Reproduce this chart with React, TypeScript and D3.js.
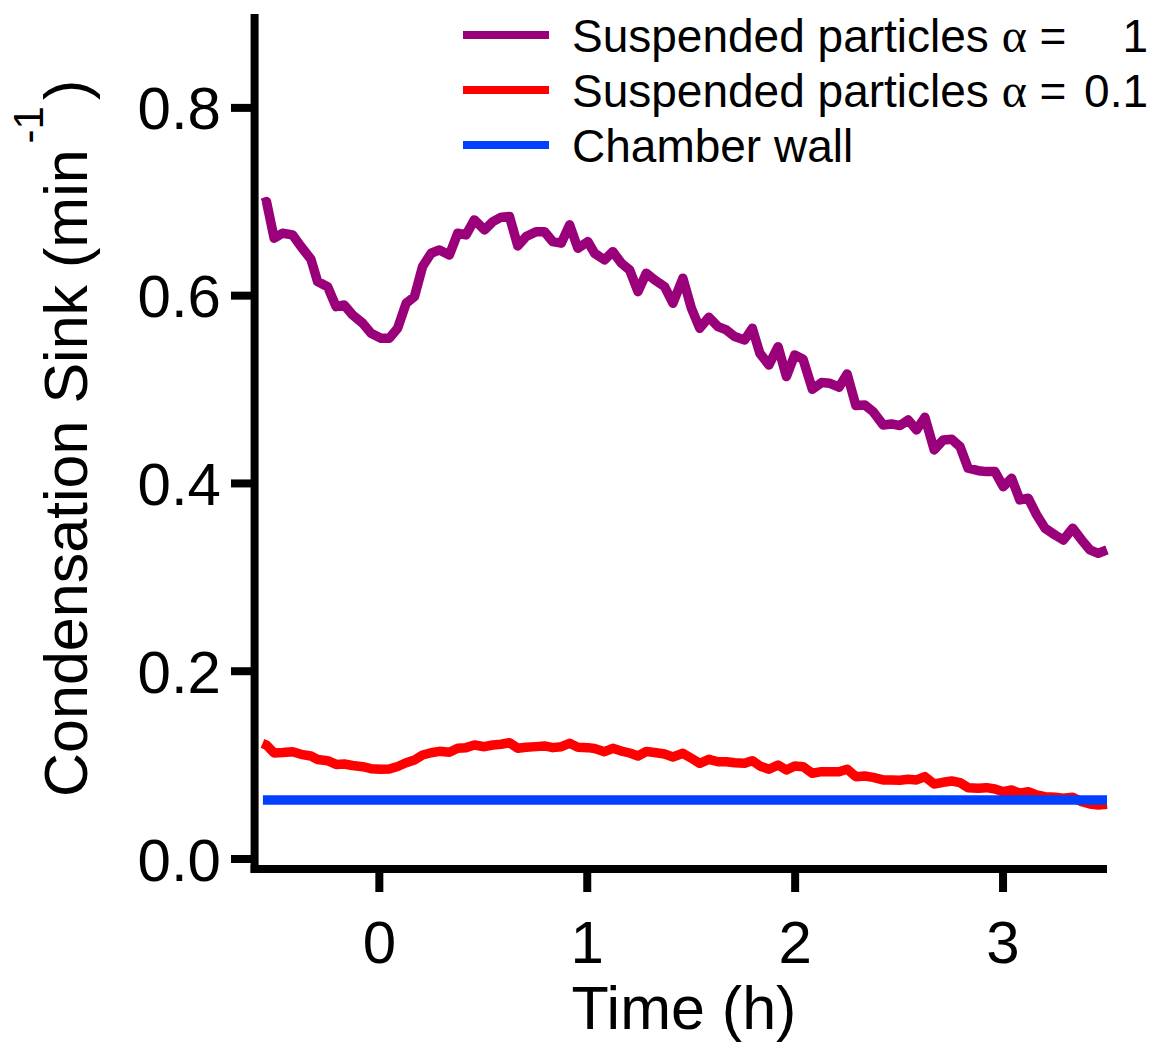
import React from "react";
import * as d3 from "d3";

const timeH = [
  -0.562, -0.543, -0.506, -0.466, -0.417, -0.377, -0.329, -0.297, -0.249, -0.208,
  -0.169, -0.129, -0.08, -0.04, 0.008, 0.048, 0.088, 0.129, 0.169, 0.208,
  0.249, 0.289, 0.337, 0.377, 0.417, 0.457, 0.506, 0.546, 0.586, 0.626,
  0.666, 0.706, 0.754, 0.794, 0.834, 0.875, 0.915, 0.955, 1.003, 1.035,
  1.083, 1.123, 1.164, 1.204, 1.244, 1.284, 1.324, 1.372, 1.412, 1.46,
  1.501, 1.541, 1.585, 1.629, 1.669, 1.709, 1.757, 1.794, 1.83, 1.874,
  1.918, 1.958, 1.998, 2.038, 2.083, 2.127, 2.167, 2.211, 2.25, 2.292,
  2.335, 2.375, 2.423, 2.464, 2.504, 2.544, 2.584, 2.624, 2.669, 2.712,
  2.753, 2.793, 2.832, 2.881, 2.921, 2.961, 3.001, 3.041, 3.081, 3.121,
  3.162, 3.202, 3.25, 3.29, 3.335, 3.378, 3.418, 3.458, 3.5,
];

const sinkAlpha1 = [
  0.6985, 0.7002, 0.6612, 0.6665, 0.6647, 0.6523, 0.6388, 0.615, 0.6096, 0.5883,
  0.5901, 0.5795, 0.5706, 0.56, 0.5547, 0.5547, 0.5653, 0.592, 0.599, 0.631,
  0.6452, 0.6487, 0.6434, 0.6665, 0.6647, 0.6807, 0.67, 0.6789, 0.6836, 0.6842,
  0.653, 0.6629, 0.6682, 0.6682, 0.6576, 0.6559, 0.6754, 0.6505, 0.6576, 0.6452,
  0.6381, 0.6469, 0.6346, 0.6274, 0.6043, 0.6239, 0.6168, 0.6096, 0.592, 0.6186,
  0.5866, 0.5653, 0.577, 0.567, 0.5635, 0.5564, 0.5529, 0.5653, 0.5387, 0.5262,
  0.5457, 0.5138, 0.5369, 0.5323, 0.5003, 0.5074, 0.5067, 0.5025, 0.5166, 0.4829,
  0.4836, 0.4765, 0.4623, 0.4634, 0.4616, 0.4676, 0.457, 0.4705, 0.4357, 0.4463,
  0.4471, 0.4392, 0.4162, 0.4136, 0.4126, 0.4126, 0.3966, 0.4055, 0.3824, 0.3842,
  0.3664, 0.3523, 0.3451, 0.3398, 0.3523, 0.3398, 0.3292, 0.3256, 0.3292,
];

const sinkAlpha01 = [
  0.1232, 0.1214, 0.1129, 0.1134, 0.1143, 0.1115, 0.1097, 0.106, 0.1047, 0.1007,
  0.1012, 0.0996, 0.0983, 0.0962, 0.0956, 0.0959, 0.0985, 0.1025, 0.1055, 0.1108,
  0.1132, 0.1147, 0.1137, 0.1179, 0.1186, 0.1214, 0.1196, 0.1214, 0.1222, 0.1239,
  0.1179, 0.119, 0.1197, 0.1204, 0.1186, 0.1196, 0.1232, 0.119, 0.1186, 0.1177,
  0.1143, 0.1179, 0.115, 0.1129, 0.1097, 0.1145, 0.1134, 0.1119, 0.1087, 0.1126,
  0.1073, 0.1019, 0.1062, 0.1036, 0.1036, 0.1026, 0.1019, 0.1047, 0.0991, 0.0956,
  0.1001, 0.0948, 0.0991, 0.0983, 0.0913, 0.093, 0.093, 0.093, 0.0956, 0.0877,
  0.0884, 0.087, 0.0842, 0.0842, 0.0838, 0.0849, 0.0842, 0.0877, 0.0799, 0.0817,
  0.0831, 0.0813, 0.076, 0.0753, 0.076, 0.0746, 0.0717, 0.0735, 0.07, 0.0717,
  0.0682, 0.0664, 0.0657, 0.0647, 0.0657, 0.061, 0.0586, 0.0575, 0.0583,
];

const wallTime = [-0.56, 3.5];
const wallSink = [0.0628, 0.0628];

const xTicks = [0, 1, 2, 3];
const yTicks = [0, 0.2, 0.4, 0.6, 0.8];

const seriesLabels = ["Suspended particles ", "Suspended particles ", "Chamber wall"];
const seriesHasAlpha = [true, true, false];
const seriesValues = ["1", "0.1", ""];
const seriesColors = ["#99007A", "#FF0000", "#0041FF"];

const FONT = "'Liberation Sans', Arial, Helvetica, sans-serif";

export default function App() {
  const W = 1157;
  const H = 1043;
  const x = d3.scaleLinear().domain([-0.6, 3.5]).range([254.6, 1107]);
  const y = d3.scaleLinear().domain([0, 0.9]).range([859, 14]);

  const line = d3
    .line<[number, number]>()
    .x((d) => x(d[0]))
    .y((d) => y(d[1]));

  const purple = timeH.map((t, i) => [t, sinkAlpha1[i]] as [number, number]);
  const red = timeH.map((t, i) => [t, sinkAlpha01[i]] as [number, number]);
  const blue = wallTime.map((t, i) => [t, wallSink[i]] as [number, number]);

  const axisX = x(-0.6);
  const axisY = 869;

  return (
    <svg
      width={W}
      height={H}
      style={{ position: "absolute", left: 0, top: 0, background: "#fff" }}
      fontFamily={FONT}
    >
      <rect x={0} y={0} width={W} height={H} fill="#fff" />
      {/* data lines */}
      <path d={line(purple) || ""} fill="none" stroke={seriesColors[0]} strokeWidth={9.5} strokeLinejoin="round" />
      <path d={line(red) || ""} fill="none" stroke={seriesColors[1]} strokeWidth={9.5} strokeLinejoin="round" />
      <path d={line(blue) || ""} fill="none" stroke={seriesColors[2]} strokeWidth={9.5} />

      {/* y axis */}
      <line x1={axisX} x2={axisX} y1={14} y2={axisY + 4} stroke="#000" strokeWidth={8} />
      {yTicks.map((t) => (
        <g key={"y" + t}>
          <line x1={231} x2={axisX} y1={y(t)} y2={y(t)} stroke="#000" strokeWidth={8} />
          <text x={221} y={y(t)} dy="0.36em" textAnchor="end" fontSize={60}>
            {t.toFixed(1)}
          </text>
        </g>
      ))}

      {/* x axis */}
      <line x1={axisX - 4} x2={x(3.5)} y1={axisY} y2={axisY} stroke="#000" strokeWidth={8} />
      {xTicks.map((t) => (
        <g key={"x" + t}>
          <line x1={x(t)} x2={x(t)} y1={axisY} y2={892} stroke="#000" strokeWidth={8} />
          <text x={x(t)} y={963} textAnchor="middle" fontSize={60}>
            {t}
          </text>
        </g>
      ))}

      {/* axis titles */}
      <text x={684} y={1029} textAnchor="middle" fontSize={61}>
        Time (h)
      </text>
      <text transform="translate(87,797) rotate(-90)" fontSize={61}>
        Condensation Sink (min
        <tspan fontSize={42} dx={6} dy={-44}>-1</tspan>
        <tspan fontSize={61} dx={6} dy={44}>)</tspan>
      </text>

      {/* legend */}
      {seriesLabels.map((label, i) => {
        const ly = 35 + i * 55;
        return (
          <g key={"leg" + i}>
            <line x1={463} x2={549} y1={ly} y2={ly} stroke={seriesColors[i]} strokeWidth={8} />
            <text x={572} y={ly} dy="0.36em" fontSize={46}>
              {label}
              {seriesHasAlpha[i] && (
                <tspan fontFamily="'Liberation Serif', 'Times New Roman', serif" fontSize={48}>
                  {"\u03b1"}
                </tspan>
              )}
              {seriesHasAlpha[i] ? " =" : ""}
            </text>
            {seriesValues[i] && (
              <text x={1148} y={ly} dy="0.36em" textAnchor="end" fontSize={46}>
                {seriesValues[i]}
              </text>
            )}
          </g>
        );
      })}
    </svg>
  );
}
